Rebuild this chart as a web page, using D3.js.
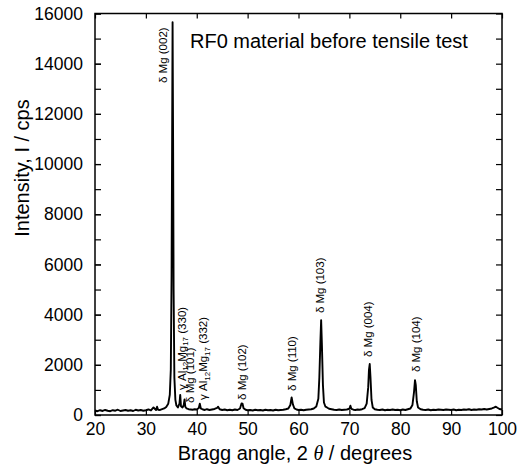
<!DOCTYPE html>
<html><head><meta charset="utf-8">
<script src="https://cdn.jsdelivr.net/npm/d3@7"></script>
<style>body{margin:0;background:#fff}svg{display:block}text{font-family:"Liberation Sans",Arial,sans-serif;fill:#000}</style>
</head><body>
<svg id="c" width="528" height="470"></svg>
<script>
const twoTheta = [20.0,20.5,21.0,21.5,22.0,22.5,23.0,23.5,24.0,24.5,25.0,25.5,26.0,26.5,27.0,27.5,28.0,28.5,29.0,29.5,30.0,30.5,31.0,31.5,32.0,32.2,32.4,32.8,33.2,33.6,34.0,34.4,34.7,34.9,35.05,35.15,35.25,35.35,35.45,35.6,35.8,36.0,36.3,36.6,36.75,36.9,37.2,37.45,37.6,37.75,38.0,38.4,38.8,39.2,39.6,40.0,40.4,40.6,40.8,41.2,41.6,42.0,42.5,43.0,43.5,44.0,44.2,44.5,45.0,45.5,46.0,46.5,47.0,47.5,48.0,48.5,48.8,49.0,49.2,49.6,50.0,50.5,51.0,51.5,52.0,52.5,53.0,53.5,54.0,54.5,55.0,55.5,56.0,56.5,57.0,57.5,58.0,58.4,58.65,58.9,59.2,59.6,60.0,60.5,61.0,61.5,62.0,62.5,63.0,63.5,63.9,64.1,64.3,64.45,64.6,64.8,65.0,65.3,65.6,66.0,66.5,67.0,67.5,68.0,68.5,69.0,69.5,70.0,70.2,70.4,70.8,71.2,71.6,72.0,72.5,73.0,73.4,73.7,73.85,74.0,74.15,74.35,74.6,75.0,75.5,76.0,76.5,77.0,77.5,78.0,78.5,79.0,79.5,80.0,80.5,81.0,81.5,82.0,82.4,82.7,82.9,83.05,83.25,83.5,84.0,84.5,85.0,85.5,86.0,86.5,87.0,87.5,88.0,88.5,89.0,89.5,90.0,90.5,91.0,91.5,92.0,92.5,93.0,93.5,94.0,94.5,95.0,95.5,96.0,96.5,97.0,97.5,98.0,98.5,98.8,99.1,99.5,100.0];
const intensity = [180,150,190,160,200,170,150,190,170,210,160,180,200,170,190,160,210,180,200,170,190,220,180,300,200,330,210,200,230,260,320,450,800,1800,5500,10500,15650,11000,5000,1500,600,380,300,450,800,350,300,400,620,330,260,230,220,210,230,220,280,450,260,220,200,230,200,220,240,280,330,230,200,220,190,210,190,220,200,260,460,450,270,210,190,200,180,210,190,200,180,210,190,200,180,210,190,200,210,230,260,400,700,420,260,220,200,210,190,210,220,230,260,340,650,1500,2900,3780,2800,1200,500,330,300,250,230,210,200,220,200,210,220,250,370,240,210,200,220,210,230,270,450,1100,1800,2030,1500,600,300,230,210,200,220,190,210,200,220,200,210,190,220,200,230,260,400,900,1390,1200,550,300,230,210,200,220,190,210,200,220,210,200,220,210,200,220,190,210,200,220,210,230,200,220,210,230,220,240,220,240,260,300,330,290,240,220];
const xTicks = [20,30,40,50,60,70,80,90,100];
const yTicks = [0,2000,4000,6000,8000,10000,12000,14000,16000];
const yMinorTicks = d3.range(0,16001,1000);
const labelTexts = [["δ Mg (002)"],["γ Al","12","Mg","17"," (330)"],["δ Mg (101)"],["γ Al","12","Mg","17"," (332)"],["δ Mg (102)"],["δ Mg (110)"],["δ Mg (103)"],["δ Mg (004)"],["δ Mg (104)"]];
const labelAngles = [33.37,37.1,38.67,41.23,48.9,58.72,64.23,73.66,83.1];
const labelBase = [13230,1000,480,600,600,960,4060,2310,1710];

const svg = d3.select("#c");
const L=95,R=502,T=13.5,B=415;
const x = d3.scaleLinear().domain([20,100]).range([L,R]);
const y = d3.scaleLinear().domain([0,16000]).range([B,T]);

// data line
const pts = twoTheta.map((t,i)=>[t,intensity[i]]);
svg.append("path").datum(pts)
  .attr("d", d3.line().x(d=>x(d[0])).y(d=>y(d[1])))
  .attr("fill","none").attr("stroke","#000").attr("stroke-width",1.9).attr("stroke-linejoin","round");

// frame
svg.append("rect").attr("x",L).attr("y",T).attr("width",R-L).attr("height",B-T)
  .attr("fill","none").attr("stroke","#000").attr("stroke-width",1.5);

// axes with inward ticks
const ax = svg.append("g").attr("transform",`translate(0,${B})`)
  .call(d3.axisBottom(x).tickValues(xTicks).tickSize(-5).tickPadding(9).tickFormat(d3.format("d")));
const axTop = svg.append("g").attr("transform",`translate(0,${T})`)
  .call(d3.axisTop(x).tickValues(xTicks).tickSize(-5).tickFormat(""));
const ayMinor = svg.append("g").attr("transform",`translate(${L},0)`)
  .call(d3.axisLeft(y).tickValues(yMinorTicks).tickSize(-6).tickFormat(""));
const ay = svg.append("g").attr("transform",`translate(${L},0)`)
  .call(d3.axisLeft(y).tickValues(yTicks).tickSize(-6).tickPadding(12).tickFormat(d3.format("d")));
const ayR = svg.append("g").attr("transform",`translate(${R},0)`)
  .call(d3.axisRight(y).tickValues(yMinorTicks).tickSize(-6).tickFormat(""));
[ax,axTop,ay,ayMinor,ayR].forEach(g=>{
  g.select(".domain").remove();
  g.selectAll(".tick line").attr("stroke","#000").attr("stroke-width",1.2);
  g.selectAll("text").attr("font-size",17.5).attr("font-family","'Liberation Sans',Arial,sans-serif").attr("fill","#000");
});
ax.selectAll("text").attr("dy","0.6em");

// axis titles
const xt = svg.append("text").attr("x",295).attr("y",460).attr("text-anchor","middle").attr("font-size",20);
xt.append("tspan").text("Bragg angle, 2 ");
xt.append("tspan").attr("font-style","italic").attr("font-family","'Liberation Serif',serif").text("θ");
xt.append("tspan").text("  / degrees");
svg.append("text").attr("transform","translate(29,168) rotate(-90)").attr("text-anchor","middle")
  .attr("font-size",20).text("Intensity, I / cps");

// title
svg.append("text").attr("x",190).attr("y",48).attr("font-size",20).text("RF0 material before tensile test");

// peak labels
labelTexts.forEach((parts,i)=>{
  const t = svg.append("text")
    .attr("transform",`translate(${x(labelAngles[i])+4},${y(labelBase[i])}) rotate(-90)`)
    .attr("font-size",11.5);
  if(parts.length===1){ t.text(parts[0]); }
  else {
    t.append("tspan").text(parts[0]);
    t.append("tspan").attr("font-size",8).attr("dy",2.5).text(parts[1]);
    t.append("tspan").attr("dy",-2.5).text(parts[2]);
    t.append("tspan").attr("font-size",8).attr("dy",2.5).text(parts[3]);
    t.append("tspan").attr("dy",-2.5).text(parts[4]);
  }
});
</script>
</body></html>
